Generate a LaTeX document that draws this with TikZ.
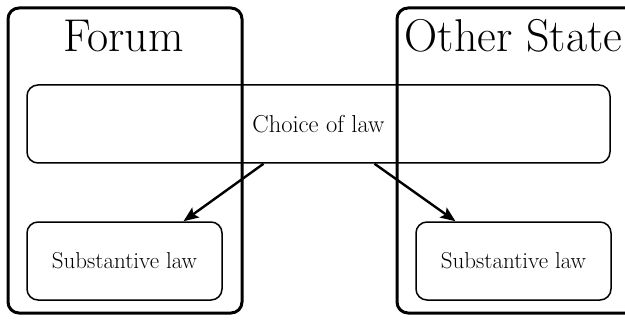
\documentclass[tikz,border=0pt]{standalone}
\usetikzlibrary{arrows.meta}
\begin{document}
\begin{tikzpicture}[x=1pt,y=-1pt,
  region/.style={draw, line width=3pt, rounded corners=11pt, inner sep=0pt},
  lawbox/.style={draw, line width=1.5pt, rounded corners=11pt, inner sep=0pt},
  title/.style={anchor=base, inner sep=0pt, font=\fontsize{46}{52}\selectfont},
  label/.style={inner sep=0pt, font=\fontsize{23}{28}\selectfont},
  link/.style={line width=2.4pt, -{Stealth[length=15pt,width=12pt,inset=3pt]}}]
  \useasboundingbox (0,0) rectangle (625,321);
  \clip (0,0) rectangle (625,321);
  % jurisdictions
  \node[region, minimum width=234pt, minimum height=305pt] (forum) at (125,160.5) {};
  \node[region, minimum width=253pt, minimum height=305pt] (other) at (523.5,160.5) {};
  \node[title] (forumtitle) at (123.5,52) {Forum};
  \node[title] (othertitle) at (513.5,52) {Other State};
  % law boxes
  \node[lawbox, minimum width=583pt, minimum height=78pt] (choice) at (318.5,124) {};
  \node[label, font=\fontsize{24.5}{29}\selectfont] at (choice.center) {Choice of law};
  \node[lawbox, minimum width=195pt, minimum height=78pt] (lsub) at (124.5,261) {};
  \node[label] at (lsub.center) {Substantive law};
  \node[lawbox, minimum width=195pt, minimum height=78pt] (rsub) at (513.5,261) {};
  \node[label] at (rsub.center) {Substantive law};
  % choice leads to each substantive law
  \draw[link] ([xshift=-55pt]choice.south) -- ([xshift=59pt]lsub.north);
  \draw[link] ([xshift=56pt]choice.south) -- ([xshift=-58pt]rsub.north);
\end{tikzpicture}
\end{document}
